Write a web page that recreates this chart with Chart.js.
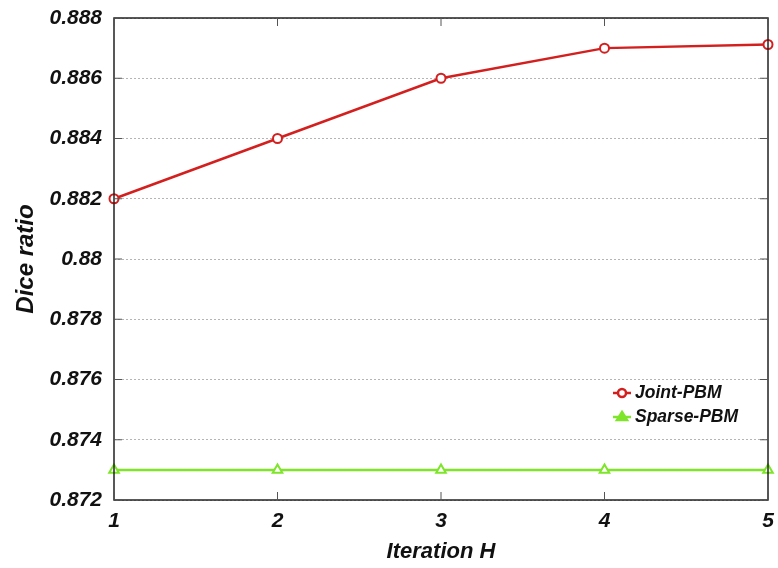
<!DOCTYPE html>
<html>
<head>
<meta charset="utf-8">
<script src="https://cdn.jsdelivr.net/npm/chart.js@4/dist/chart.umd.min.js"></script>
<style>
  html, body { margin: 0; padding: 0; background: #fff; }
  #wrap { width: 778px; height: 568px; }
</style>
</head>
<body>
<div id="wrap"><canvas id="diceChart" width="778" height="568"></canvas></div>
<script>
const iterations = [1, 2, 3, 4, 5];
const jointPBM = [0.882, 0.884, 0.886, 0.887, 0.88712];
const sparsePBM = [0.873, 0.873, 0.873, 0.873, 0.873];
const yTicks = [0.872, 0.874, 0.876, 0.878, 0.88, 0.882, 0.884, 0.886, 0.888];

const FONT = "'Liberation Sans', Arial, sans-serif";
const RED = "#d41f1f";
const GREEN = "#7fe52a";

// frame + inward tick marks + legend inside the plot
const frameAndLegend = {
  id: "frameAndLegend",
  afterDatasetsDraw(chart) {
    const ctx = chart.ctx;
    const a = chart.chartArea;
    const xs = chart.scales.x, ys = chart.scales.y;
    ctx.save();
    ctx.strokeStyle = "#222";
    ctx.lineWidth = 1.5;
    ctx.strokeRect(a.left, a.top, a.right - a.left, a.bottom - a.top);

    ctx.lineWidth = 1;
    ctx.strokeStyle = "#555";
    iterations.forEach(v => {
      const x = xs.getPixelForValue(v);
      ctx.beginPath(); ctx.moveTo(x, a.bottom); ctx.lineTo(x, a.bottom - 8); ctx.stroke();
      ctx.beginPath(); ctx.moveTo(x, a.top); ctx.lineTo(x, a.top + 8); ctx.stroke();
    });
    yTicks.forEach(v => {
      const y = ys.getPixelForValue(v);
      ctx.beginPath(); ctx.moveTo(a.left, y); ctx.lineTo(a.left + 8, y); ctx.stroke();
      ctx.beginPath(); ctx.moveTo(a.right, y); ctx.lineTo(a.right - 8, y); ctx.stroke();
    });

    // legend
    const items = [
      { label: "Joint-PBM", color: RED, shape: "circle" },
      { label: "Sparse-PBM", color: GREEN, shape: "triangle" }
    ];
    const lx = a.right - 155, ly0 = a.bottom - 107;
    ctx.font = "italic bold 17.5px " + FONT;
    ctx.textBaseline = "middle";
    items.forEach((it, i) => {
      const y = ly0 + i * 24;
      ctx.strokeStyle = it.color;
      ctx.lineWidth = 2.5;
      ctx.beginPath(); ctx.moveTo(lx, y); ctx.lineTo(lx + 18, y); ctx.stroke();
      ctx.fillStyle = "#fff";
      ctx.beginPath();
      if (it.shape === "circle") {
        ctx.arc(lx + 9, y, 4, 0, Math.PI * 2);
      } else {
        ctx.moveTo(lx + 9, y - 5); ctx.lineTo(lx + 14, y + 3); ctx.lineTo(lx + 4, y + 3); ctx.closePath();
        ctx.fillStyle = it.color;
      }
      ctx.fill(); ctx.stroke();
      ctx.fillStyle = "#111";
      ctx.fillText(it.label, lx + 22, y);
    });
    ctx.restore();
  }
};

new Chart(document.getElementById("diceChart"), {
  type: "line",
  data: {
    datasets: [
      {
        label: "Joint-PBM",
        data: iterations.map((x, i) => ({ x: x, y: jointPBM[i] })),
        borderColor: RED,
        backgroundColor: "#fff",
        borderWidth: 2.5,
        pointStyle: "circle",
        pointRadius: 4.5,
        pointBorderWidth: 2,
        pointBorderColor: RED,
        pointBackgroundColor: "#fff",
        tension: 0
      },
      {
        label: "Sparse-PBM",
        data: iterations.map((x, i) => ({ x: x, y: sparsePBM[i] })),
        borderColor: GREEN,
        backgroundColor: "#fff",
        borderWidth: 2.5,
        pointStyle: "triangle",
        pointRadius: 5.5,
        pointBorderWidth: 2,
        pointBorderColor: GREEN,
        pointBackgroundColor: "#fff",
        tension: 0
      }
    ]
  },
  options: {
    responsive: false,
    animation: false,
    clip: false,
    layout: { padding: { top: 18, right: 10, left: 12, bottom: 2 } },
    plugins: { legend: { display: false }, tooltip: { enabled: false } },
    scales: {
      x: {
        type: "linear",
        min: 1, max: 5,
        afterBuildTicks: axis => { axis.ticks = iterations.map(v => ({ value: v })); },
        afterFit: axis => { axis.height = 66; axis.paddingLeft = 0; axis.paddingRight = 0; },
        grid: { display: false, drawTicks: false },
        border: { display: false },
        ticks: {
          padding: 9,
          color: "#111",
          font: { family: FONT, size: 21, style: "italic", weight: "bold" }
        },
        title: {
          display: true,
          text: "Iteration H",
          color: "#111",
          padding: { top: 5, bottom: 1 },
          font: { family: FONT, size: 22, style: "italic", weight: "bold" }
        }
      },
      y: {
        min: 0.872, max: 0.888,
        afterBuildTicks: axis => { axis.ticks = yTicks.map(v => ({ value: v })); },
        afterFit: axis => { axis.width = 102; axis.paddingTop = 0; axis.paddingBottom = 0; },
        grid: { color: "#b5b5b5", lineWidth: 1, drawTicks: false },
        border: { display: false, dash: [2, 2] },
        ticks: {
          padding: 12,
          color: "#111",
          font: { family: FONT, size: 21, style: "italic", weight: "bold" },
          callback: v => parseFloat(v.toFixed(3)).toString()
        },
        title: {
          display: true,
          text: "Dice ratio",
          color: "#111",
          padding: { top: 0, bottom: 4 },
          font: { family: FONT, size: 24, style: "italic", weight: "bold" }
        }
      }
    }
  },
  plugins: [frameAndLegend]
});
</script>
</body>
</html>
